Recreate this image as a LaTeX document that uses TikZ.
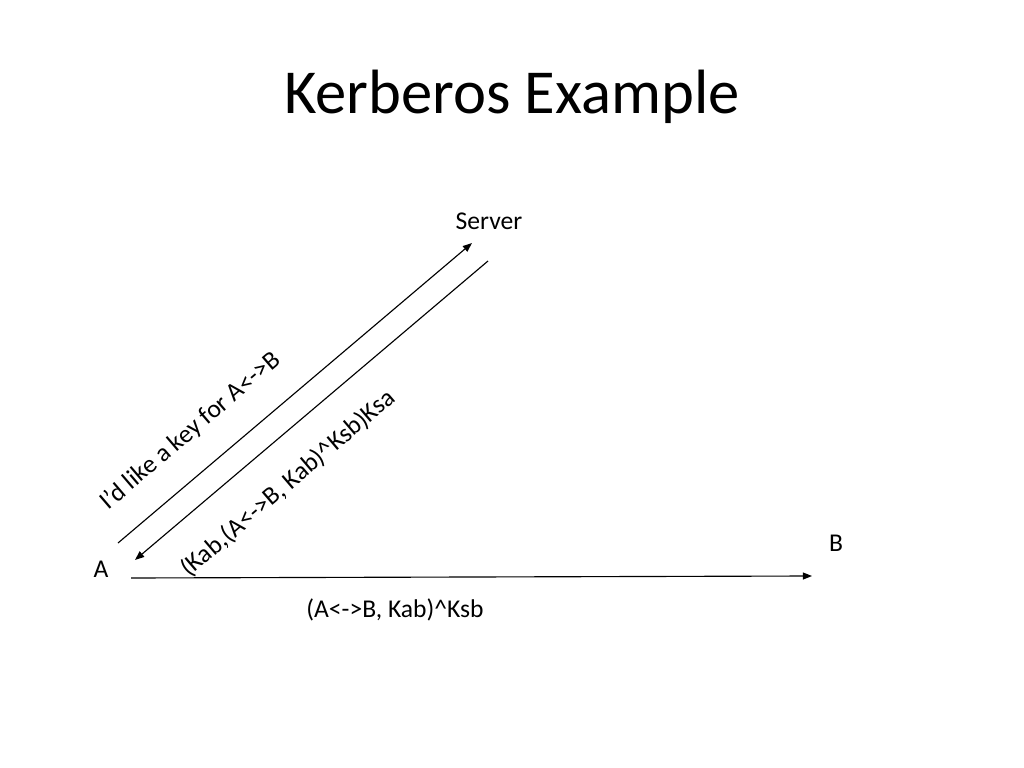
\documentclass[tikz,border=0pt]{standalone}
\usepackage{fontspec}
\setmainfont{Carlito}
\usetikzlibrary{arrows.meta}
\begin{document}
\begin{tikzpicture}[x=0.703125pt,y=-0.703125pt,
  lbl/.style={inner sep=0pt,font=\fontsize{18}{21}\selectfont},
  msg/.style={line width=0.8pt,-{Triangle[length=6.5pt,width=5pt]}}]
\useasboundingbox (0,0) rectangle (1024,768);
\node[inner sep=0pt,font=\fontsize{44}{50}\selectfont] (title) at (512,97) {Kerberos Example};
\node[lbl] (server) at (489,221) {Server};
\node[lbl] (A) at (101,569) {A};
\node[lbl] (B) at (836,543) {B};
\coordinate (a1s) at (118,543);
\coordinate (a1e) at (472,243);
\coordinate (a2s) at (488,261);
\coordinate (a2e) at (135,560);
\coordinate (a3s) at (131,578);
\coordinate (a3e) at (812,576);
\draw[msg] (a1s) -- (a1e);
\draw[msg] (a2s) -- (a2e);
\draw[msg] (a3s) -- (a3e);
\node[lbl,rotate=40.5] (l1) at (191,431) {I’d like a key for A<->B};
\node[lbl,rotate=40.5] (l2) at (288,483) {(Kab,(A<->B, Kab)\^{}Ksb)Ksa};
\node[lbl] (l3) at (395,610) {(A<->B, Kab)\^{}Ksb};
\end{tikzpicture}
\end{document}
